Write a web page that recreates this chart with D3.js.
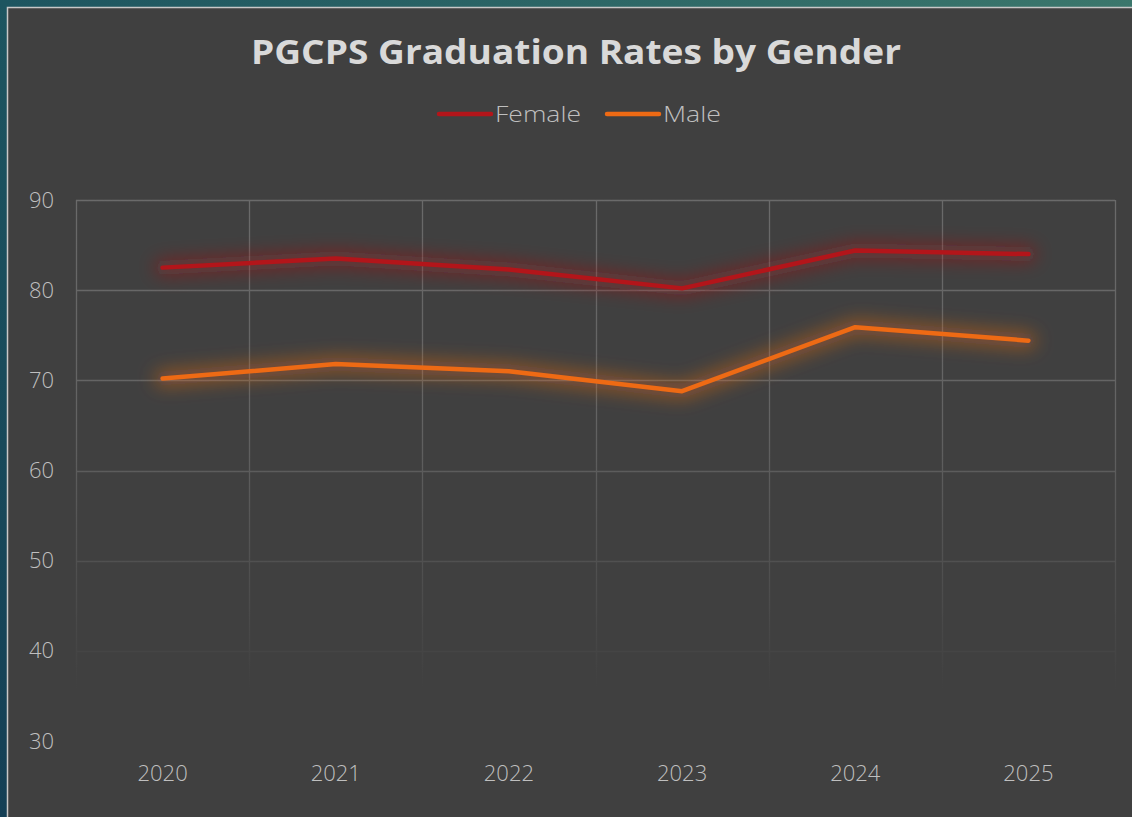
<!DOCTYPE html>
<html>
<head>
<meta charset="utf-8">
<script src="https://cdn.jsdelivr.net/npm/d3@7"></script>
<style>
  html, body { margin: 0; padding: 0; background: #1a4c5a; }
  svg { display: block; }
</style>
</head>
<body>
<div id="chart"></div>
<script>
var years = ["2020", "2021", "2022", "2023", "2024", "2025"];
var female = [82.5, 83.5, 82.3, 80.2, 84.4, 84.0];
var male = [70.2, 71.8, 71.0, 68.8, 75.9, 74.4];
var yTicks = [30, 40, 50, 60, 70, 80, 90];
var seriesNames = ["Female", "Male"];
var seriesColors = ["#b3151a", "#ee6a14"];

var W = 1132, H = 817;
var margin = {left: 76, right: 17, top: 200, bottom: 76};
var font = "'Open Sans', 'Noto Sans', sans-serif";

var svg = d3.select("#chart").append("svg")
    .attr("width", W)
    .attr("height", H);

var defs = svg.append("defs");
var bg = defs.append("linearGradient").attr("id", "bg")
    .attr("x1", "0").attr("y1", "1").attr("x2", "1").attr("y2", "0");
bg.append("stop").attr("offset", "0").attr("stop-color", "#143f55");
bg.append("stop").attr("offset", "0.5").attr("stop-color", "#1d5560");
bg.append("stop").attr("offset", "1").attr("stop-color", "#3b776c");

// grid fades out toward the bottom
var gridFade = defs.append("linearGradient").attr("id", "gridFade")
    .attr("gradientUnits", "userSpaceOnUse")
    .attr("x1", 0).attr("y1", margin.top).attr("x2", 0).attr("y2", 690);
gridFade.append("stop").attr("offset", "0").attr("stop-color", "#6a6a6a");
gridFade.append("stop").attr("offset", "0.45").attr("stop-color", "#636363");
gridFade.append("stop").attr("offset", "1").attr("stop-color", "#404040");

var glow = defs.append("filter").attr("id", "glow")
    .attr("filterUnits", "userSpaceOnUse")
    .attr("x", 0).attr("y", 150).attr("width", W).attr("height", 350);
glow.append("feGaussianBlur").attr("stdDeviation", 9);

svg.append("rect").attr("width", W).attr("height", H).attr("fill", "url(#bg)");
svg.append("rect")
    .attr("x", 7.5).attr("y", 7.5)
    .attr("width", W + 10).attr("height", H + 10)
    .attr("fill", "#404040")
    .attr("stroke", "#c8c8c8")
    .attr("stroke-width", 1.5);

var x = d3.scaleBand().domain(years).range([margin.left, W - margin.right]);
var y = d3.scaleLinear().domain([30, 90]).range([H - margin.bottom, margin.top]);

var grid = svg.append("g");
grid.selectAll("line.h")
    .data(yTicks.filter(function (d) { return d > 30; }))
    .enter().append("line")
    .attr("class", "h")
    .attr("x1", margin.left).attr("x2", W - margin.right)
    .attr("y1", function (d) { return Math.round(y(d)) + 0.5; })
    .attr("y2", function (d) { return Math.round(y(d)) + 0.5 + 0.01; })
    .attr("stroke", "url(#gridFade)")
    .attr("stroke-width", 1.3);

var vx = years.map(function (d) { return x(d); }).concat([W - margin.right]);
grid.selectAll("line.v")
    .data(vx)
    .enter().append("line")
    .attr("class", "v")
    .attr("x1", function (d) { return Math.round(d) + 0.5; })
    .attr("x2", function (d) { return Math.round(d) + 0.5; })
    .attr("y1", margin.top).attr("y2", 690)
    .attr("stroke", "url(#gridFade)")
    .attr("stroke-width", 1.3);

// axes
var yAxis = svg.append("g")
    .attr("transform", "translate(" + (margin.left - 22) + ",0)")
    .call(d3.axisLeft(y).tickValues(yTicks).tickSize(0).tickPadding(0));
yAxis.select(".domain").remove();
yAxis.selectAll("text")
    .attr("fill", "#bfbfbf")
    .style("font-family", font)
    .style("font-weight", 300)
    .style("font-size", "22px");

var xAxis = svg.append("g")
    .attr("transform", "translate(0," + (H - margin.bottom + 24) + ")")
    .call(d3.axisBottom(x).tickSize(0).tickPadding(0));
xAxis.select(".domain").remove();
xAxis.selectAll("text")
    .attr("fill", "#bfbfbf")
    .attr("dy", "0.71em")
    .style("font-family", font)
    .style("font-weight", 300)
    .style("font-size", "22px");

// series
var line = d3.line()
    .x(function (d, i) { return x(years[i]) + x.bandwidth() / 2; })
    .y(function (d) { return y(d); });

var series = [female, male];
series.forEach(function (vals, i) {
    svg.append("path")
        .datum(vals)
        .attr("d", line)
        .attr("fill", "none")
        .attr("stroke", seriesColors[i])
        .attr("stroke-opacity", 0.45)
        .attr("stroke-width", 16)
        .attr("stroke-linecap", "round")
        .attr("stroke-linejoin", "round")
        .attr("filter", "url(#glow)");
});
series.forEach(function (vals, i) {
    svg.append("path")
        .datum(vals)
        .attr("d", line)
        .attr("fill", "none")
        .attr("stroke", seriesColors[i])
        .attr("stroke-width", 4.5)
        .attr("stroke-linecap", "round")
        .attr("stroke-linejoin", "round");
});

// title
svg.append("text")
    .attr("x", 576).attr("y", 64)
    .attr("text-anchor", "middle")
    .attr("fill", "#d9d9d9")
    .attr("textLength", 650)
    .attr("lengthAdjust", "spacingAndGlyphs")
    .style("font-family", font)
    .style("font-weight", "bold")
    .style("font-size", "34px")
    .text("PGCPS Graduation Rates by Gender");

// legend
var legendX = [437, 605];
var legendW = [86, 58];
var legend = svg.append("g");
seriesNames.forEach(function (name, i) {
    var g = legend.append("g").attr("transform", "translate(" + legendX[i] + ",114)");
    g.append("line")
        .attr("x1", 2).attr("x2", 54)
        .attr("stroke", seriesColors[i])
        .attr("stroke-width", 4.5)
        .attr("stroke-linecap", "round");
    g.append("text")
        .attr("x", 58).attr("y", 8)
        .attr("fill", "#bfbfbf")
        .attr("textLength", legendW[i])
        .attr("lengthAdjust", "spacingAndGlyphs")
        .style("font-family", font)
        .style("font-weight", 300)
        .style("font-size", "22px")
        .text(name);
});
</script>
</body>
</html>
